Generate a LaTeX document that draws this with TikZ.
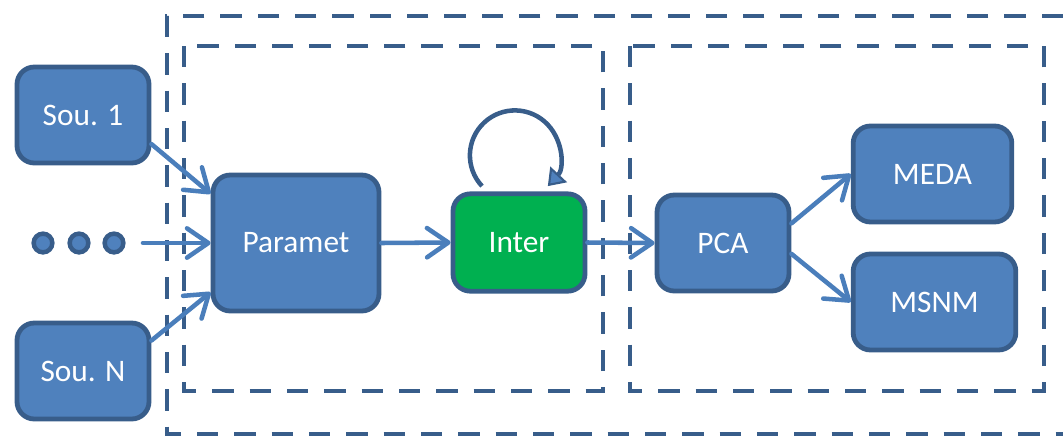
\documentclass[tikz,border=0pt]{standalone}
\usepackage{fontspec}
\setmainfont{Carlito}
\usetikzlibrary{arrows.meta}
\definecolor{boxfill}{HTML}{4F81BD}
\definecolor{boxline}{HTML}{385D8A}
\definecolor{linkcol}{HTML}{4A7EBB}
\definecolor{greenfill}{HTML}{00B050}
\tikzset{
  block/.style={draw=boxline, line width=3.6pt, fill=boxfill, rounded corners=13pt,
    inner sep=0pt, text=white, font=\fontsize{23.5}{28}\selectfont},
  dot/.style={circle, draw=boxline, line width=3.4pt, fill=boxfill, minimum size=14pt, inner sep=0pt},
  link/.style={draw=linkcol, line width=3.4pt, line cap=round,
    -{Straight Barb[length=16pt,width=22pt,line width=3.4pt,round]}},
  frame/.style={draw=boxline, line width=3.4pt, dash pattern=on 16pt off 12pt},
}
\begin{document}
\begin{tikzpicture}[x=0.75pt,y=-0.75pt]
\useasboundingbox (0,0) rectangle (1063,436);

% dashed frames
\draw[frame] (1063,16) -- (167,16) -- (167,434) -- (1063,434);
\draw[frame] (184,46) rectangle (603,391);
\draw[frame] (630,46) rectangle (1044,391);

% sources
\node[block, minimum width=99pt, minimum height=72pt] (s1) at (83,115) {Sou. 1};
\node[block, minimum width=99pt, minimum height=72pt] (sn) at (83,371) {Sou. N};
\node[dot] (d1) at (43,243) {};
\node[dot] (d2) at (79,243) {};
\node[dot] (d3) at (114,243) {};
\coordinate (dstart) at (143,243);

% processing chain
\node[block, minimum width=124.5pt, minimum height=102pt] (par) at (296,243) {Paramet};
\node[block, fill=greenfill, minimum width=99pt, minimum height=73pt] (int) at (519,242.5) {Inter};
\node[block, minimum width=99pt, minimum height=72pt] (pca) at (723,243) {PCA};
\node[block, minimum width=119pt, minimum height=72pt] (meda) at (932.5,174) {MEDA};
\node[block, minimum width=122pt, minimum height=72pt] (msnm) at (934.5,302) {MSNM};

% connectors
\draw[link] (s1.-23) -- (par.150);
\draw[link] (dstart) -- (par.west);
\draw[link] (sn.24) -- (par.210);
\draw[link] (par.east) -- (int.west);
\draw[link] (int.east) -- (pca.west);
\draw[link] (pca.16) -- (meda.west);
\draw[link] (pca.-9) -- (msnm.west);

% self loop on Inter
\coordinate (loopstart) at ([xshift=-27.75pt,yshift=4pt]int.north);
\draw[draw=boxline, line width=3.4pt,
  -{Triangle[length=12pt,width=17pt,fill=boxfill,line width=1.6pt]}]
  (loopstart) arc[start angle=137, end angle=403, radius=45];
\end{tikzpicture}
\end{document}
